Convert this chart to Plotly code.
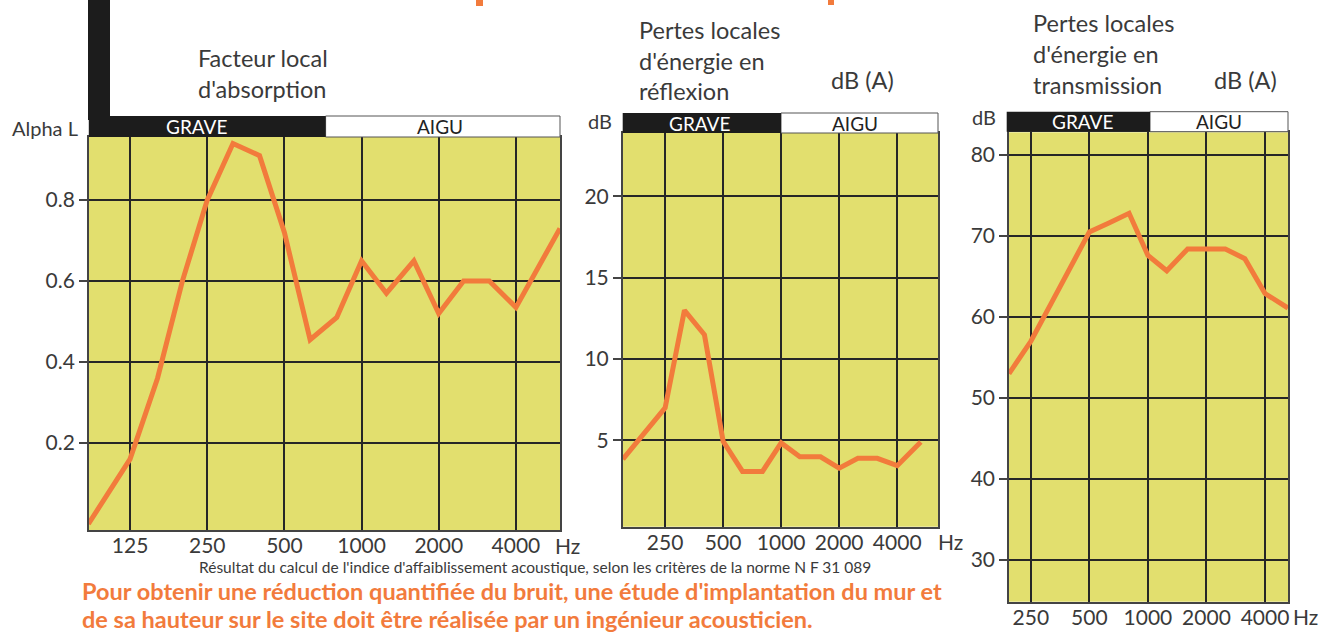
import plotly.graph_objects as go

W, H = 1319, 632

# ---------------- data ----------------
freq_abs = [86, 125, 160, 200, 250, 315, 400, 500, 630, 800, 1000, 1250, 1600, 2000, 2500, 3150, 4000, 5940]
alpha_l = [0.0, 0.16, 0.36, 0.60, 0.80, 0.94, 0.91, 0.72, 0.455, 0.51, 0.65, 0.57, 0.65, 0.52, 0.60, 0.60, 0.535, 0.73]

freq_refl = [151, 250, 315, 400, 500, 630, 800, 1000, 1250, 1600, 2000, 2500, 3150, 4000, 5300]
refl_db = [3.85, 7.0, 13.0, 11.5, 4.95, 3.1, 3.1, 4.85, 4.0, 4.0, 3.3, 3.9, 3.9, 3.45, 4.9]

freq_trans = [193, 250, 315, 400, 500, 630, 800, 1000, 1250, 1600, 2000, 2500, 3150, 4000, 5250]
trans_db = [53.0, 57.0, 61.5, 66.0, 70.5, 71.6, 72.8, 67.6, 65.7, 68.4, 68.4, 68.4, 67.2, 62.9, 61.1]

xticks_abs = [125, 250, 500, 1000, 2000, 4000]
xticks_db = [250, 500, 1000, 2000, 4000]
yticks_abs = [0.2, 0.4, 0.6, 0.8]
yticks_refl = [5, 10, 15, 20]
yticks_trans = [30, 40, 50, 60, 70, 80]

# ---------------- style ----------------
YELLOW = "#e2df6e"
ORANGE = "#f27b3c"
GRID = "#262626"
TXT = "#3a3a3a"
FONT = "Lato"


def X(px):
    return px / W


def Y(py):
    return 1 - py / H


fig = go.Figure()
fig.add_trace(go.Scatter(x=freq_abs, y=alpha_l, mode="lines", xaxis="x", yaxis="y",
                         line=dict(color=ORANGE, width=5)))
fig.add_trace(go.Scatter(x=freq_refl, y=refl_db, mode="lines", xaxis="x2", yaxis="y2",
                         line=dict(color=ORANGE, width=5)))
fig.add_trace(go.Scatter(x=freq_trans, y=trans_db, mode="lines", xaxis="x3", yaxis="y3",
                         line=dict(color=ORANGE, width=5)))

panels = [
    # (x0, x1, ytop, ybottom, xrange, yrange, xticks, yticks)
    (88.8, 560, 137, 530, [1.936, 3.774], [-0.015, 0.956], xticks_abs, yticks_abs),
    (622.7, 938, 133, 526.7, [2.178, 3.8136], [-0.3, 23.9], xticks_db, yticks_refl),
    (1009, 1288, 132.3, 601.7, [2.2856, 3.7202], [24.85, 82.8], xticks_db, yticks_trans),
]

layout = dict(
    width=W, height=H,
    margin=dict(l=0, r=0, t=0, b=0),
    paper_bgcolor="white",
    plot_bgcolor=YELLOW,
    showlegend=False,
    font=dict(family=FONT, color=TXT),
)

for i, (x0, x1, yt, yb, xr, yr, xt, yt_vals) in enumerate(panels):
    sfx = "" if i == 0 else str(i + 1)
    layout["xaxis" + sfx] = dict(
        domain=[X(x0), X(x1)], type="log", range=xr,
        anchor="y" + sfx, tickvals=xt, ticktext=[str(v) for v in xt],
        showgrid=True, gridcolor=GRID, gridwidth=2,
        showline=True, mirror=True, linecolor="#444", linewidth=1.5,
        ticks="", ticklabelstandoff=-4,
        tickfont=dict(size=21, color=TXT, family=FONT),
        zeroline=False, fixedrange=True,
    )
    layout["yaxis" + sfx] = dict(
        domain=[Y(yb), Y(yt)], range=yr,
        anchor="x" + sfx, tickvals=yt_vals, ticktext=[str(v) for v in yt_vals],
        showgrid=True, gridcolor=GRID, gridwidth=2,
        showline=True, mirror=True, linecolor="#444", linewidth=1.5,
        ticks="outside", ticklen=8, tickcolor="#444", tickwidth=1.5,
        tickfont=dict(size=21, color=TXT, family=FONT),
        zeroline=False, fixedrange=True,
    )

shapes = []


def rect(x0, y0, x1, y1, fill, line=None):
    shapes.append(dict(type="rect", xref="paper", yref="paper",
                       x0=X(x0), x1=X(x1), y0=Y(y1), y1=Y(y0),
                       fillcolor=fill, line=dict(color=line or fill, width=1 if line else 0),
                       layer="above"))


# black L bar on the left of first panel
rect(88, 0, 110, 120, "#1c1c1c")
# headers
headers = [
    (88.8, 325.6, 560, 116, 137),
    (622.7, 781, 938, 113, 133),
    (1006.7, 1150, 1288, 111.7, 131.7),
]
for g0, mid, a1, ht, hb in headers:
    rect(mid, ht, a1, hb, "white", "#555")
    rect(g0, ht, mid, hb, "#1c1c1c")

# small orange fragments at the very top (cut-off title)
rect(476, 0, 483, 6, ORANGE)
rect(828, 0, 834, 5, ORANGE)

annotations = []


def txt(s, px, py, size, color=TXT, xanchor="left", bold=False):
    annotations.append(dict(
        text=("<b>%s</b>" % s) if bold else s,
        x=X(px), y=Y(py), xref="paper", yref="paper",
        xanchor=xanchor, yanchor="middle", showarrow=False,
        font=dict(size=size, color=color, family=FONT)))


# header labels
txt("GRAVE", 196, 127, 19, "white", "center")
txt("AIGU", 440, 127, 19, "#222", "center")
txt("GRAVE", 699, 123, 19, "white", "center")
txt("AIGU", 855, 123, 19, "#222", "center")
txt("GRAVE", 1082, 121.5, 19, "white", "center")
txt("AIGU", 1219, 121.5, 19, "#222", "center")

# titles
TS = 23.5
txt("Facteur local", 196, 58, TS)
txt("d'absorption", 196, 89, TS)
txt("Pertes locales", 637, 30, TS)
txt("d'énergie en", 637, 61, TS)
txt("réflexion", 637, 91, TS)
txt("dB (A)", 829, 80, TS)
txt("Pertes locales", 1031, 23, TS)
txt("d'énergie en", 1031, 54, TS)
txt("transmission", 1031, 85, TS)
txt("dB (A)", 1212, 80, TS)

# axis units
txt("Alpha L", 45, 128, 20, TXT, "center")
txt("dB", 600, 121, 20, TXT, "center")
txt("dB", 984, 117, 20, TXT, "center")
txt("Hz", 567, 545, 21, TXT, "center")
txt("Hz", 950, 541, 21, TXT, "center")
txt("Hz", 1305, 616, 21, TXT, "center")

# caption & note
txt("Résultat du calcul de l'indice d'affaiblissement acoustique, selon les critères de la norme N F 31 089",
    535, 567, 15.5, TXT, "center")
txt("Pour obtenir une réduction quantifiée du bruit, une étude d'implantation du mur et",
    80, 591, 23.5, ORANGE, "left", True)
txt("de sa hauteur sur le site doit être réalisée par un ingénieur acousticien.",
    80, 619, 23.5, ORANGE, "left", True)

layout["shapes"] = shapes
layout["annotations"] = annotations
fig.update_layout(**layout)

fig.write_html("out.html", config={"displayModeBar": False},
               post_script="document.body.style.margin='0';document.body.style.overflow='hidden';")
